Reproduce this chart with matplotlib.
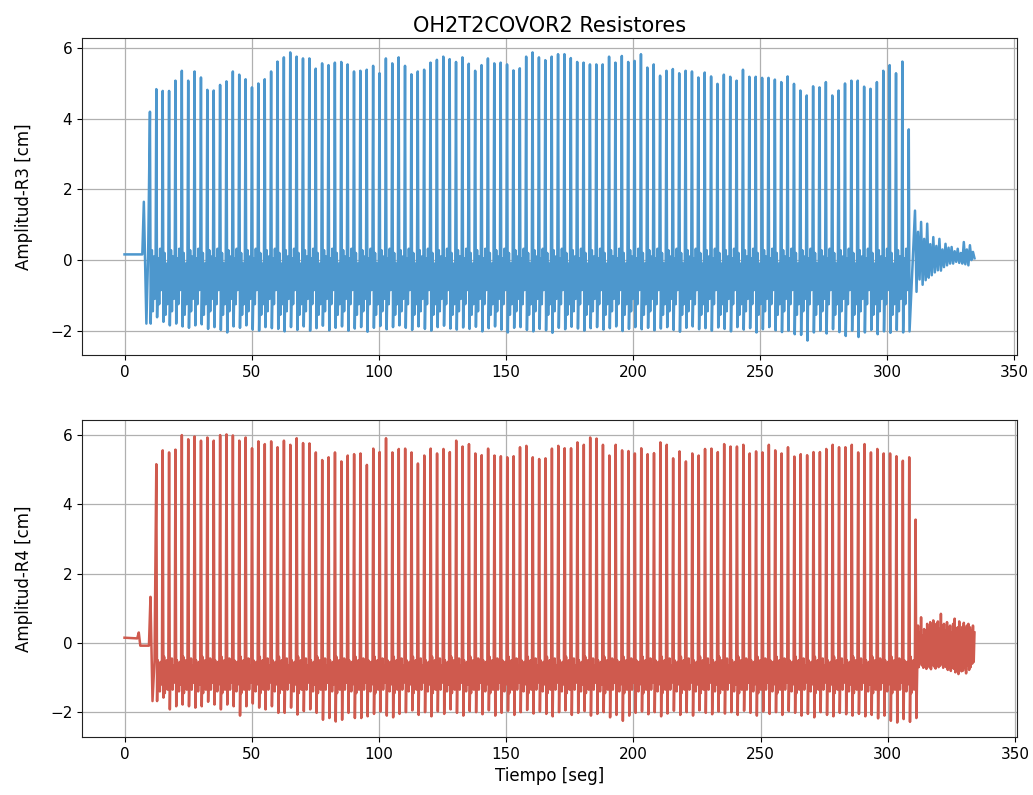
import numpy as np
import matplotlib
matplotlib.use("Agg")
import matplotlib.pyplot as plt

# Wave period of the train (seconds between consecutive crests)
period = 2.508

# ---------------- Gauge R3 ----------------
r3_first_crest = 10.0
r3_crests = [
    4.20,
    4.84, 4.79, 4.79, 5.08, 5.36, 5.08, 5.34, 5.17, 4.82, 4.80,
    4.96, 5.06, 5.34, 5.25, 5.12, 4.89, 5.00, 5.12, 5.34, 5.62,
    5.74, 5.88, 5.76, 5.71, 5.71, 5.42, 5.57, 5.52, 5.59, 5.61,
    5.54, 5.34, 5.36, 5.39, 5.50, 5.29, 5.71, 5.57, 5.74,
    5.50, 5.26, 5.34, 5.39, 5.59, 5.67, 5.76, 5.69, 5.61, 5.74,
    5.56, 5.36, 5.52, 5.71, 5.57, 5.59, 5.54, 5.37, 5.43, 5.76,
    5.88, 5.74, 5.66, 5.76, 5.83, 5.83, 5.72, 5.61, 5.59, 5.54,
    5.54, 5.54, 5.76, 5.59, 5.78, 5.61, 5.64, 5.83, 5.45, 5.54,
    5.22, 5.36, 5.41, 5.29, 5.36, 5.34, 5.17, 5.31, 5.20, 4.99,
    5.25, 5.19, 5.08, 5.39, 5.19, 5.19, 5.16, 5.16, 5.11, 5.04,
    5.20, 4.99, 4.80, 4.66, 4.92, 4.89, 5.04, 4.66, 4.80, 5.00,
    5.08, 5.08, 4.91, 4.85, 5.04, 5.36, 5.52, 5.29, 5.62,
    3.70,
]
r3_troughs = [
    -1.80, -1.62, -1.75, -1.85, -1.80, -1.88, -1.92, -1.85, -1.82, -1.95,
    -1.90, -1.98, -2.05, -1.88, -1.92, -1.85, -1.97, -2.00, -1.90, -1.93,
    -1.95, -2.02, -1.90, -1.98, -1.88, -2.00, -1.93, -1.86, -1.99, -1.92,
    -1.88, -2.00, -1.94, -1.90, -2.03, -1.92, -1.87, -1.96, -1.90, -1.85,
    -1.92, -1.98, -1.88, -1.95, -2.00, -1.90, -1.86, -1.94, -1.97, -1.91,
    -1.95, -1.89, -2.02, -1.93, -1.88, -1.97, -2.05, -1.92, -1.90, -1.98,
    -2.02, -1.95, -1.99, -2.06, -1.92, -1.96, -1.89, -1.94, -2.00, -1.93,
    -1.90, -1.97, -1.93, -1.88, -2.01, -1.95, -1.90, -1.96, -1.92, -1.99,
    -1.94, -1.90, -1.98, -2.03, -1.92, -1.88, -1.96, -1.93, -2.00, -1.91,
    -1.95, -2.02, -1.90, -1.97, -1.93, -2.05, -1.96, -1.90, -1.99, -2.04,
    -2.00, -2.10, -2.12, -2.28, -2.05, -2.00, -2.08, -1.96, -2.04, -2.15,
    -2.00, -2.18, -2.05, -1.98, -2.10, -2.02, -2.06, -1.98, -2.05,
    -2.02,
]
# secondary oscillation between crests (fraction of period, levels in cm);
# three recurring shapes, used in turn
r3_wiggle_phase = [0.30, 0.45, 0.60, 0.74, 0.88]
r3_wiggle_levels = [
    [0.28, -1.45, 0.10, -1.10, -0.35],
    [0.05, -1.25, 0.32, -0.85, -0.50],
    [0.20, -1.55, -0.10, -1.25, -0.15],
]
# still water and first small wave before the train
r3_lead_t = [0.0, 7.0, 7.6, 8.6, 9.3]
r3_lead_v = [0.16, 0.16, 1.65, -1.80, 0.20]
# decaying residual motion after the train, sampled every 0.6 s
r3_tail_start = 310.9
r3_tail_step = 0.6
r3_tail = [1.40, -0.90, 0.80, -0.55, 1.08, -0.70, 0.60, -0.57, 1.03, -0.50,
           0.45, -0.43, 0.65, -0.35, 0.40, -0.29, 0.60, -0.30, 0.30, -0.20,
           0.46, -0.15, 0.35, -0.10, 0.37, -0.10, 0.25, -0.05, 0.32, -0.08,
           0.20, -0.10, 0.51, -0.12, 0.30, -0.15, 0.42, 0.00, 0.23, 0.05]

# ---------------- Gauge R4 ----------------
r4_first_crest = 12.5
r4_crests = [
    5.16, 5.56, 5.50, 5.58, 6.00, 5.88, 5.96, 5.84, 5.93, 5.84,
    6.00, 6.02, 5.99, 5.84, 5.93, 5.62, 5.82, 5.74, 5.82, 5.65,
    5.84, 5.72, 5.91, 5.77, 5.76, 5.50, 5.28, 5.36, 5.50, 5.24,
    5.41, 5.45, 5.47, 5.14, 5.61, 5.51, 5.91, 5.50, 5.60, 5.61,
    5.50, 5.18, 5.41, 5.61, 5.47, 5.60, 5.51, 5.84, 5.67, 5.74,
    5.47, 5.42, 5.61, 5.41, 5.39, 5.36, 5.39, 5.65, 5.69, 5.36,
    5.31, 5.33, 5.61, 5.69, 5.62, 5.62, 5.79, 5.72, 5.93, 5.90,
    5.72, 5.41, 5.72, 5.56, 5.54, 5.47, 5.62, 5.45, 5.48, 5.79,
    5.72, 5.33, 5.53, 5.24, 5.47, 5.41, 5.60, 5.61, 5.51, 5.74,
    5.67, 5.67, 5.72, 5.47, 5.53, 5.50, 5.72, 5.56, 5.47, 5.65,
    5.38, 5.45, 5.42, 5.51, 5.51, 5.60, 5.72, 5.65, 5.65, 5.72,
    5.50, 5.74, 5.50, 5.60, 5.47, 5.47, 5.39, 5.26, 5.36,
    3.56,
]
r4_troughs = [
    -1.68, -1.58, -1.92, -1.83, -1.78, -1.83, -1.87, -1.83, -1.70, -1.78,
    -1.92, -1.78, -1.83, -2.10, -1.83, -1.75, -1.87, -1.92, -1.83, -2.02,
    -2.02, -1.87, -2.07, -1.97, -1.92, -2.02, -2.22, -2.17, -2.27, -2.22,
    -2.02, -2.17, -2.17, -2.12, -2.05, -1.98, -2.10, -2.15, -2.05, -2.00,
    -1.95, -2.08, -2.00, -2.12, -1.98, -2.05, -1.92, -2.02, -2.10, -1.97,
    -2.00, -2.06, -1.95, -2.10, -2.02, -1.96, -2.08, -2.00, -1.94, -2.04,
    -1.98, -2.05, -2.12, -2.00, -1.95, -2.08, -2.02, -1.97, -2.10, -2.05,
    -2.00, -2.15, -2.08, -2.25, -2.10, -2.02, -1.98, -2.06, -2.00, -2.12,
    -2.04, -1.96, -2.08, -2.00, -2.10, -1.95, -2.02, -2.06, -1.98, -2.04,
    -2.00, -2.08, -1.96, -2.02, -2.10, -1.98, -2.05, -2.00, -2.08, -1.97,
    -2.02, -2.10, -2.05, -2.15, -2.00, -2.08, -2.12, -2.02, -2.06, -2.10,
    -2.05, -2.12, -2.08, -2.18, -2.10, -2.25, -2.30, -2.20, -2.28,
    -2.17,
]
r4_wiggle_phase = [0.22, 0.33, 0.44, 0.55, 0.66, 0.77, 0.88]
r4_wiggle_levels = [
    [-0.50, -1.30, -0.60, -1.40, -0.55, -1.20, -0.80],
    [-0.40, -1.45, -0.70, -1.25, -0.50, -1.35, -0.70],
    [-0.60, -1.20, -0.45, -1.35, -0.65, -1.15, -0.90],
]
r4_lead_t = [0.0, 5.0, 5.6, 6.2, 9.6, 10.2, 11.0, 11.8]
r4_lead_v = [0.15, 0.13, 0.30, -0.08, -0.08, 1.33, -1.68, -0.50]
r4_tail_start = 311.9
r4_tail_step = 0.3
r4_tail = [0.50, -0.70, 0.30, -0.55, 0.74, -0.65, 0.20, -0.72, 0.40, -0.60,
           0.36, -0.75, 0.55, -0.50, 0.25, -0.70, 0.60, -0.76, 0.45, -0.62,
           0.65, -0.68, 0.30, -0.74, 0.55, -0.58, 0.62, -0.70, 0.40, -0.66,
           0.84, -0.60, 0.50, -0.72, 0.55, -0.65, 0.35, -0.70, 0.60, -0.78,
           0.45, -0.72, 0.50, -0.81, 0.30, -0.70, 0.55, -0.75, 0.70, -0.85,
           0.40, -0.80, 0.45, -0.90, 0.62, -0.75, 0.35, -0.82, 0.46, -0.80,
           0.58, -0.70, 0.40, -0.88, 0.50, -0.65, 0.55, -0.78, 0.45, -0.70,
           0.35, -0.60, 0.50, -0.55, 0.30]


def build_series(first, crests, troughs, phases, level_sets,
                 lead_t, lead_v, tail_start, tail_step, tail):
    t = list(lead_t)
    v = list(lead_v)
    n = len(crests)
    for k, (c, d) in enumerate(zip(crests, troughs)):
        t0 = first + k * period
        t += [t0, t0 + 0.12 * period]
        v += [c, d]
        if k < n - 1:
            t += [t0 + p * period for p in phases]
            v += list(level_sets[k % len(level_sets)])
    t += list(tail_start + tail_step * np.arange(len(tail)))
    v += list(tail)
    return np.array(t), np.array(v)


t3, y3 = build_series(r3_first_crest, r3_crests, r3_troughs,
                      r3_wiggle_phase, r3_wiggle_levels,
                      r3_lead_t, r3_lead_v, r3_tail_start, r3_tail_step, r3_tail)
t4, y4 = build_series(r4_first_crest, r4_crests, r4_troughs,
                      r4_wiggle_phase, r4_wiggle_levels,
                      r4_lead_t, r4_lead_v, r4_tail_start, r4_tail_step, r4_tail)

fig = plt.figure(figsize=(10.33, 7.95), dpi=100)
ax1 = fig.add_axes([0.0794, 0.5535, 0.9051, 0.3987])
ax2 = fig.add_axes([0.0794, 0.0730, 0.9051, 0.3987])

ax1.plot(t3, y3, color="#4d97cd", lw=1.8)
ax2.plot(t4, y4, color="#cf5a4e", lw=1.8)

xticks = [0, 50, 100, 150, 200, 250, 300, 350]
yticks = [-2, 0, 2, 4, 6]
for ax in (ax1, ax2):
    ax.set_xticks(xticks)
    ax.set_yticks(yticks)
    ax.grid(True, color="#b0b0b0", lw=0.9)
    ax.tick_params(labelsize=11)
    for s in ax.spines.values():
        s.set_color("#222222")

ax1.set_title("OH2T2COVOR2 Resistores", fontsize=15, pad=4)
ax1.set_ylabel("Amplitud-R3 [cm]", fontsize=12, labelpad=12)
ax2.set_ylabel("Amplitud-R4 [cm]", fontsize=12, labelpad=12)
ax2.set_xlabel("Tiempo [seg]", fontsize=12)

fig.savefig("out.png", dpi=100)
